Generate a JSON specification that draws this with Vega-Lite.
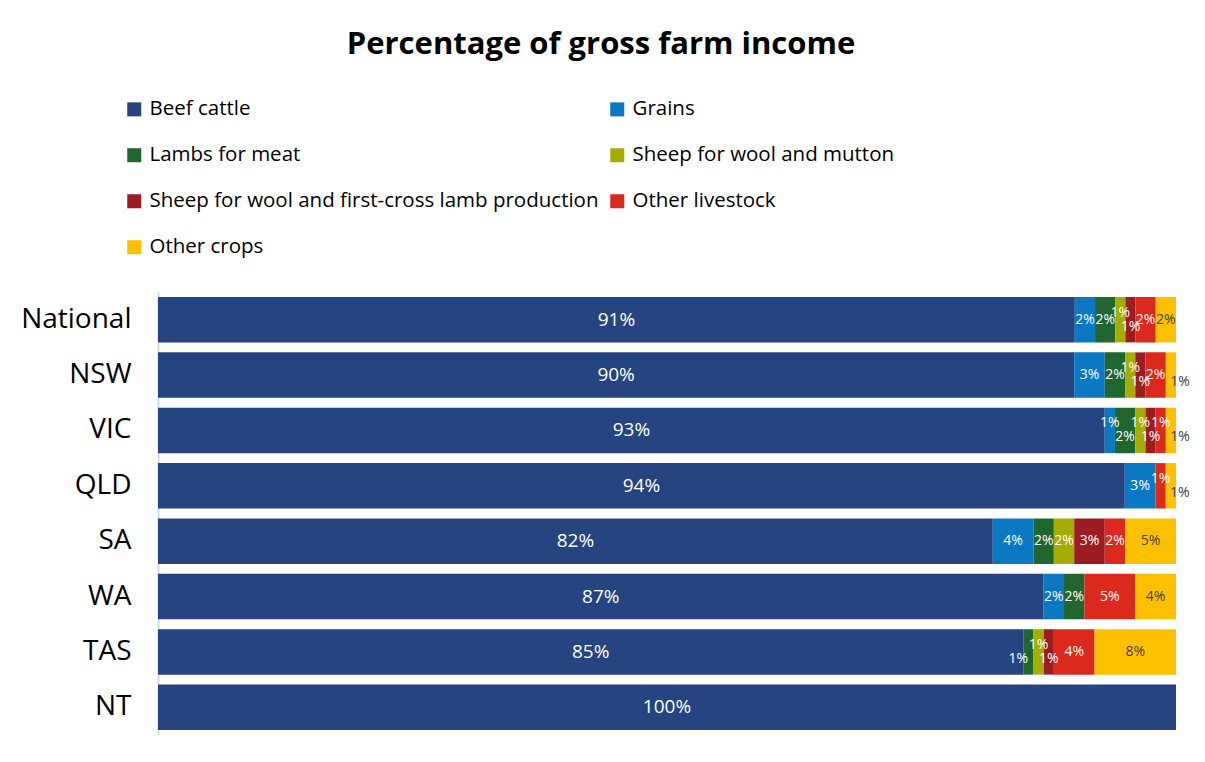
{
  "$schema": "https://vega.github.io/schema/vega-lite/v6.json",
  "autosize": {"type": "none"},
  "padding": {"left": 158, "top": 292, "right": 29, "bottom": 27},
  "width": 1018,
  "height": 443,
  "background": "#ffffff",
  "config": {"view": {"stroke": null}, "font": "Open Sans"},
  "title": {"text": "Percentage of gross farm income", "fontSize": 31, "font": "Open Sans", "fontWeight": "bold", "color": "#000000", "frame": "group", "anchor": "middle", "dx": -66, "offset": 14, "baseline": "alphabetic"},
  "data": {"values": [
    {"state": "National", "category": "Beef cattle", "value": 90.6},
    {"state": "National", "category": "Grains", "value": 2},
    {"state": "National", "category": "Lambs for meat", "value": 2},
    {"state": "National", "category": "Sheep for wool and mutton", "value": 1},
    {"state": "National", "category": "Sheep for wool and first-cross lamb production", "value": 1},
    {"state": "National", "category": "Other livestock", "value": 2},
    {"state": "National", "category": "Other crops", "value": 2},
    {"state": "NSW", "category": "Beef cattle", "value": 90},
    {"state": "NSW", "category": "Grains", "value": 3},
    {"state": "NSW", "category": "Lambs for meat", "value": 2},
    {"state": "NSW", "category": "Sheep for wool and mutton", "value": 1},
    {"state": "NSW", "category": "Sheep for wool and first-cross lamb production", "value": 1},
    {"state": "NSW", "category": "Other livestock", "value": 2},
    {"state": "NSW", "category": "Other crops", "value": 1},
    {"state": "VIC", "category": "Beef cattle", "value": 93},
    {"state": "VIC", "category": "Grains", "value": 1},
    {"state": "VIC", "category": "Lambs for meat", "value": 2},
    {"state": "VIC", "category": "Sheep for wool and mutton", "value": 1},
    {"state": "VIC", "category": "Sheep for wool and first-cross lamb production", "value": 1},
    {"state": "VIC", "category": "Other livestock", "value": 1},
    {"state": "VIC", "category": "Other crops", "value": 1},
    {"state": "QLD", "category": "Beef cattle", "value": 94.4},
    {"state": "QLD", "category": "Grains", "value": 3},
    {"state": "QLD", "category": "Other livestock", "value": 1},
    {"state": "QLD", "category": "Other crops", "value": 1},
    {"state": "SA", "category": "Beef cattle", "value": 82},
    {"state": "SA", "category": "Grains", "value": 4},
    {"state": "SA", "category": "Lambs for meat", "value": 2},
    {"state": "SA", "category": "Sheep for wool and mutton", "value": 2},
    {"state": "SA", "category": "Sheep for wool and first-cross lamb production", "value": 3},
    {"state": "SA", "category": "Other livestock", "value": 2},
    {"state": "SA", "category": "Other crops", "value": 5},
    {"state": "WA", "category": "Beef cattle", "value": 87},
    {"state": "WA", "category": "Grains", "value": 2},
    {"state": "WA", "category": "Lambs for meat", "value": 2},
    {"state": "WA", "category": "Other livestock", "value": 5},
    {"state": "WA", "category": "Other crops", "value": 4},
    {"state": "TAS", "category": "Beef cattle", "value": 85},
    {"state": "TAS", "category": "Lambs for meat", "value": 1},
    {"state": "TAS", "category": "Sheep for wool and mutton", "value": 1},
    {"state": "TAS", "category": "Sheep for wool and first-cross lamb production", "value": 1},
    {"state": "TAS", "category": "Other livestock", "value": 4},
    {"state": "TAS", "category": "Other crops", "value": 8},
    {"state": "NT", "category": "Beef cattle", "value": 100}
  ]},
  "transform": [
    {"calculate": "indexof(['Beef cattle','Grains','Lambs for meat','Sheep for wool and mutton','Sheep for wool and first-cross lamb production','Other livestock','Other crops'], datum.category)", "as": "ord"},
    {"stack": "value", "groupby": ["state"], "sort": [{"field": "ord", "order": "ascending"}], "as": ["x0", "x1"], "offset": "normalize"},
    {"calculate": "(datum.x0 + datum.x1) / 2", "as": "xmid"},
    {"calculate": "format(datum.value, '.0f') + '%'", "as": "label"}
  ],
  "encoding": {
    "y": {"field": "state", "type": "nominal", "sort": ["National", "NSW", "VIC", "QLD", "SA", "WA", "TAS", "NT"],
      "scale": {"paddingInner": 0.18, "paddingOuter": 0.09},
      "axis": {"title": null, "labelFontSize": 28, "labelFont": "Open Sans", "labelColor": "#000000", "ticks": false, "tickSize": 0, "labelPadding": 27, "domainColor": "#D9D9D9", "domainWidth": 2, "grid": false}}
  },
  "layer": [
    {
      "mark": {"type": "bar"},
      "encoding": {
        "x": {"field": "x0", "type": "quantitative", "scale": {"domain": [0, 1], "nice": false, "zero": false}, "axis": null},
        "x2": {"field": "x1"},
        "color": {"field": "category", "type": "nominal",
          "scale": {"domain": ["Beef cattle", "Grains", "Lambs for meat", "Sheep for wool and mutton", "Sheep for wool and first-cross lamb production", "Other livestock", "Other crops"],
                    "range": ["#264480", "#0A78C2", "#21652F", "#A5AD00", "#9B1C21", "#DC291E", "#FFC000"]},
          "legend": {"orient": "none", "legendX": -34, "legendY": -193, "direction": "horizontal", "columns": 2, "title": null, "symbolType": "square", "symbolSize": 196, "symbolStrokeWidth": 0, "labelFontSize": 20.5, "labelFont": "Open Sans", "labelColor": "#000000", "labelOffset": 5, "rowPadding": 25, "columnPadding": 8, "labelLimit": 600}}
      }
    },
    {
      "transform": [{"filter": "datum.category === 'Beef cattle'"}],
      "mark": {"type": "text", "fontSize": 19, "font": "Open Sans", "color": "#ffffff"},
      "encoding": {"x": {"field": "xmid", "type": "quantitative"}, "text": {"field": "label"}}
    },
    {
      "transform": [{"filter": "datum.category !== 'Beef cattle' && datum.value >= 1.5 && !(datum.state === 'VIC' && datum.category === 'Lambs for meat')"}],
      "mark": {"type": "text", "fontSize": 14, "font": "Open Sans"},
      "encoding": {"x": {"field": "xmid", "type": "quantitative"}, "text": {"field": "label"},
        "color": {"condition": {"test": "datum.category === 'Other crops'", "value": "#404040"}, "value": "#ffffff"}}
    },
    {
      "transform": [{"filter": "datum.value < 1.5 && indexof(['Grains','Sheep for wool and mutton','Other livestock'], datum.category) >= 0"}],
      "mark": {"type": "text", "fontSize": 14, "font": "Open Sans", "color": "#ffffff", "dy": -7},
      "encoding": {"x": {"field": "xmid", "type": "quantitative"}, "text": {"field": "label"}}
    },
    {
      "transform": [{"filter": "(datum.value < 1.5 && indexof(['Lambs for meat','Sheep for wool and first-cross lamb production'], datum.category) >= 0 && !(datum.state === 'TAS' && datum.category === 'Lambs for meat')) || (datum.state === 'VIC' && datum.category === 'Lambs for meat')"}],
      "mark": {"type": "text", "fontSize": 14, "font": "Open Sans", "color": "#ffffff", "dy": 7},
      "encoding": {"x": {"field": "xmid", "type": "quantitative"}, "text": {"field": "label"}}
    },
    {
      "transform": [{"filter": "datum.state === 'TAS' && datum.category === 'Lambs for meat'"}],
      "mark": {"type": "text", "fontSize": 14, "font": "Open Sans", "color": "#ffffff", "dy": 7, "dx": -10},
      "encoding": {"x": {"field": "xmid", "type": "quantitative"}, "text": {"field": "label"}}
    },
    {
      "transform": [{"filter": "datum.value < 1.5 && datum.category === 'Other crops'"}],
      "mark": {"type": "text", "fontSize": 14, "font": "Open Sans", "color": "#404040", "dy": 7, "dx": 9},
      "encoding": {"x": {"field": "xmid", "type": "quantitative"}, "text": {"field": "label"}}
    }
  ]
}
